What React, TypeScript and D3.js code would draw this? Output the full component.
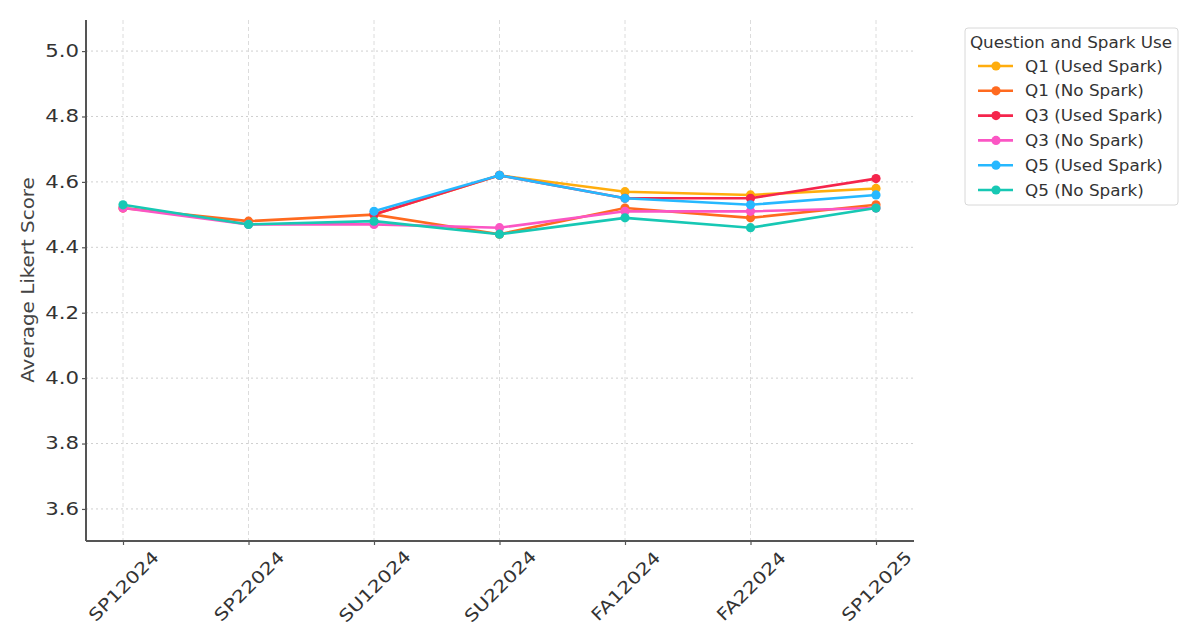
import { useEffect, useRef } from "react";
import * as d3 from "d3";

// Terms on the x axis
const terms = ["SP12024", "SP22024", "SU12024", "SU22024", "FA12024", "FA22024", "SP12025"];

// Average Likert score per term (null = no responses)
const q1Used = [null, null, 4.5, 4.62, 4.57, 4.56, 4.58];
const q1No = [4.52, 4.48, 4.5, 4.44, 4.52, 4.49, 4.53];
const q3Used = [null, null, 4.5, 4.62, 4.55, 4.55, 4.61];
const q3No = [4.52, 4.47, 4.47, 4.46, 4.51, 4.51, 4.52];
const q5Used = [null, null, 4.51, 4.62, 4.55, 4.53, 4.56];
const q5No = [4.53, 4.47, 4.48, 4.44, 4.49, 4.46, 4.52];

const yTicks = [3.6, 3.8, 4.0, 4.2, 4.4, 4.6, 4.8, 5.0];

interface Series {
  name: string;
  color: string;
  values: (number | null)[];
}

const series: Series[] = [
  { name: "Q1 (Used Spark)", color: "#ffad0d", values: q1Used },
  { name: "Q1 (No Spark)", color: "#ff6a1f", values: q1No },
  { name: "Q3 (Used Spark)", color: "#f5254c", values: q3Used },
  { name: "Q3 (No Spark)", color: "#fb56c4", values: q3No },
  { name: "Q5 (Used Spark)", color: "#26b8ff", values: q5Used },
  { name: "Q5 (No Spark)", color: "#17c8b4", values: q5No },
];

const width = 1200;
const height = 643;
const font = "'DejaVu Sans', sans-serif";
const textColor = "#333";

export default function App() {
  const svgRef = useRef<SVGSVGElement>(null);

  useEffect(() => {
    if (!svgRef.current) return;
    const svg = d3.select(svgRef.current);
    svg.selectAll("*").remove();

    const margin = { top: 20, right: 286, bottom: 102, left: 86 };
    const innerWidth = width - margin.left - margin.right;
    const innerHeight = height - margin.top - margin.bottom;

    const g = svg.append("g").attr("transform", `translate(${margin.left},${margin.top})`);

    const xScale = d3.scalePoint<string>().domain(terms).range([37, innerWidth - 38]);
    const yScale = d3.scaleLinear().domain([3.502, 5.095]).range([innerHeight, 0]);

    // Grid lines
    g.append("g")
      .selectAll("line")
      .data(yTicks)
      .join("line")
      .attr("x1", 0)
      .attr("x2", innerWidth)
      .attr("y1", (d) => yScale(d))
      .attr("y2", (d) => yScale(d))
      .attr("stroke", "#cfcfcf")
      .attr("stroke-width", 1)
      .attr("stroke-dasharray", "2,3");

    g.append("g")
      .selectAll("line")
      .data(terms)
      .join("line")
      .attr("x1", (d) => xScale(d)!)
      .attr("x2", (d) => xScale(d)!)
      .attr("y1", 0)
      .attr("y2", innerHeight)
      .attr("stroke", "#dcdcdc")
      .attr("stroke-width", 1)
      .attr("stroke-dasharray", "4,3");

    // Axes (text is a little wider than DejaVu, so stretch it horizontally)
    const yAxis = g
      .append("g")
      .call(d3.axisLeft(yScale).tickValues(yTicks).tickFormat(d3.format(".1f")).tickSize(4));
    yAxis
      .selectAll("text")
      .attr("fill", textColor)
      .attr("font-size", "17px")
      .attr("font-family", font)
      .attr("x", 0)
      .attr("transform", "translate(-7,0) scale(1.25,1)");

    const xAxis = g
      .append("g")
      .attr("transform", `translate(0,${innerHeight})`)
      .call(d3.axisBottom(xScale).tickSize(4));
    xAxis
      .selectAll("text")
      .attr("fill", textColor)
      .attr("font-size", "17px")
      .attr("font-family", font)
      .attr("text-anchor", "middle")
      .attr("dy", null)
      .attr("y", 0)
      .attr("transform", "translate(0,45) rotate(-45) scale(1.21,1)")
      .attr("dominant-baseline", "central");

    g.selectAll(".domain").attr("stroke", "#555").attr("stroke-width", 2);
    g.selectAll(".tick line").attr("stroke", "#555").attr("stroke-width", 1.2);
    // no top/right spine, axis line spans whole plot
    yAxis.select(".domain").attr("d", `M0,0V${innerHeight}`);
    xAxis.select(".domain").attr("d", `M0,0H${innerWidth}`);

    // Y axis label
    g.append("text")
      .attr("transform", `translate(${34 - margin.left},${280 - margin.top}) rotate(-90) scale(1.17,1)`)
      .attr("text-anchor", "middle")
      .attr("fill", "#444")
      .attr("font-size", "17px")
      .attr("font-family", font)
      .text("Average Likert Score");

    // Lines + markers
    const line = d3
      .line<number | null>()
      .defined((d) => d !== null)
      .x((_, i) => xScale(terms[i])!)
      .y((d) => yScale(d as number));

    series.forEach((s) => {
      g.append("path")
        .datum(s.values)
        .attr("fill", "none")
        .attr("stroke", s.color)
        .attr("stroke-width", 2.6)
        .attr("d", line);
      g.append("g")
        .selectAll("circle")
        .data(s.values.map((v, i) => ({ v, t: terms[i] })).filter((d) => d.v !== null))
        .join("circle")
        .attr("cx", (d) => xScale(d.t)!)
        .attr("cy", (d) => yScale(d.v as number))
        .attr("r", 4.6)
        .attr("fill", s.color);
    });

    // Legend
    const legend = svg.append("g").attr("transform", "translate(965,28)");
    legend
      .append("rect")
      .attr("width", 213)
      .attr("height", 177)
      .attr("rx", 3)
      .attr("fill", "#fff")
      .attr("stroke", "#d8d8d8");
    legend
      .append("text")
      .attr("transform", "translate(106,20) scale(1.05,1)")
      .attr("text-anchor", "middle")
      .attr("fill", textColor)
      .attr("font-size", "16px")
      .attr("font-family", font)
      .text("Question and Spark Use");
    series.forEach((s, i) => {
      const y = 38 + i * 24.8;
      const row = legend.append("g").attr("transform", `translate(0,${y})`);
      row.append("line").attr("x1", 13).attr("x2", 48).attr("stroke", s.color).attr("stroke-width", 2.6);
      row.append("circle").attr("cx", 31).attr("r", 4.6).attr("fill", s.color);
      row
        .append("text")
        .attr("transform", "translate(60,0) scale(1.05,1)")
        .attr("dy", "0.35em")
        .attr("fill", textColor)
        .attr("font-size", "16px")
        .attr("font-family", font)
        .text(s.name);
    });
  }, []);

  return (
    <div style={{ position: "absolute", left: 0, top: 0 }}>
      <svg ref={svgRef} width={width} height={height} viewBox={`0 0 ${width} ${height}`} />
    </div>
  );
}
